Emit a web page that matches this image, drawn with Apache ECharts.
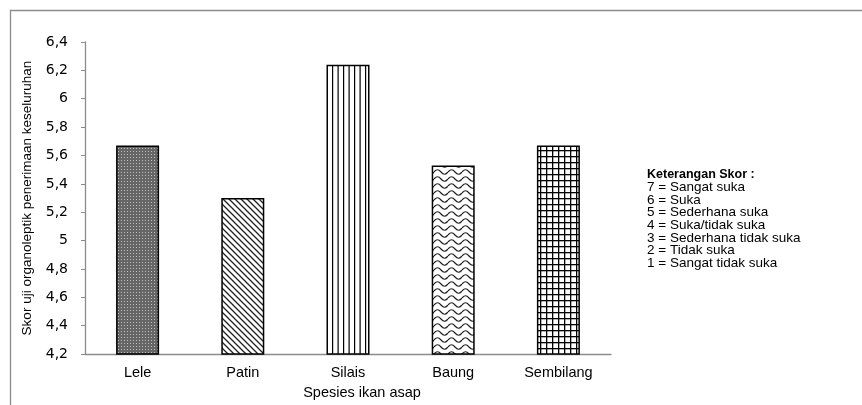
<!DOCTYPE html>
<html>
<head>
<meta charset="utf-8">
<script src="https://cdn.jsdelivr.net/npm/echarts@6/dist/echarts.min.js"></script>
<style>
  html, body { margin: 0; padding: 0; background: #fff; }
  #chart { width: 862px; height: 405px; }
</style>
</head>
<body>
<div id="chart"></div>
<script>
var categories = ['Lele', 'Patin', 'Silais', 'Baung', 'Sembilang'];
var scores = [5.67, 5.30, 6.24, 5.53, 5.67];
var keterangan = [
    '7 = Sangat suka',
    '6 = Suka',
    '5 = Sederhana suka',
    '4 = Suka/tidak suka',
    '3 = Sederhana tidak suka',
    '2 = Tidak suka',
    '1 = Sangat tidak suka'
];

// pola isi batang (canvas kecil yang diulang)
function makeTile(w, h, draw) {
    var c = document.createElement('canvas');
    c.width = w;
    c.height = h;
    var ctx = c.getContext('2d');
    ctx.fillStyle = '#fff';
    ctx.fillRect(0, 0, w, h);
    draw(ctx);
    return { image: c, repeat: 'repeat' };
}

var patterns = [
    // titik rapat
    makeTile(3, 3, function(ctx) {
        ctx.fillStyle = '#666';
        ctx.fillRect(0, 0, 3, 3);
        ctx.fillStyle = '#bdbdbd';
        ctx.fillRect(1, 1, 1, 1);
    }),
    // garis miring
    makeTile(6, 6, function(ctx) {
        ctx.strokeStyle = '#222';
        ctx.lineWidth = 1.3;
        ctx.beginPath();
        ctx.moveTo(-1, -1); ctx.lineTo(7, 7);
        ctx.moveTo(-1, 5); ctx.lineTo(1, 7);
        ctx.moveTo(5, -1); ctx.lineTo(7, 1);
        ctx.stroke();
    }),
    // garis tegak
    makeTile(11, 4, function(ctx) {
        ctx.fillStyle = '#000';
        ctx.fillRect(2, 0, 1.2, 4);
        ctx.fillRect(7.5, 0, 1.2, 4);
    }),
    // gelombang
    makeTile(14, 7, function(ctx) {
        ctx.strokeStyle = '#222';
        ctx.lineWidth = 1.2;
        ctx.beginPath();
        ctx.moveTo(0, 4);
        ctx.bezierCurveTo(2.5, 1, 4.5, 1, 7, 4);
        ctx.bezierCurveTo(9.5, 7, 11.5, 7, 14, 4);
        ctx.stroke();
    }),
    // kotak-kotak
    makeTile(6, 6, function(ctx) {
        ctx.fillStyle = '#000';
        ctx.fillRect(0, 0, 6, 1.3);
        ctx.fillRect(0, 0, 1.3, 6);
    })
];

var barData = [];
for (var i = 0; i < scores.length; i++) {
    barData.push({
        value: scores[i],
        itemStyle: { color: patterns[i] }
    });
}

var chart = echarts.init(document.getElementById('chart'));

var legendTexts = [{
    type: 'text',
    left: 647,
    top: 168,
    style: {
        text: 'Keterangan Skor :',
        font: 'bold 12.5px "Liberation Sans", Arial, sans-serif',
        fill: '#000'
    }
}];
for (var k = 0; k < keterangan.length; k++) {
    legendTexts.push({
        type: 'text',
        left: 647,
        top: 180.5 + k * 12.6,
        style: {
            text: keterangan[k],
            font: '13.5px "Liberation Sans", Arial, sans-serif',
            fill: '#000'
        }
    });
}

var option = {
    animation: false,
    backgroundColor: '#fff',
    grid: {
        left: 85,
        top: 42,
        right: 251,
        bottom: 49
    },
    xAxis: {
        type: 'category',
        data: categories,
        name: 'Spesies ikan asap',
        nameLocation: 'middle',
        nameGap: 30,
        nameTextStyle: { fontFamily: 'Liberation Sans', fontSize: 14.5, color: '#000', padding: [0, 0, 0, 28] },
        axisLine: { lineStyle: { color: '#8c8c8c', width: 1.3 } },
        axisTick: { show: false },
        axisLabel: { fontFamily: 'Liberation Sans', fontSize: 14.5, color: '#000', margin: 11 }
    },
    yAxis: {
        type: 'value',
        min: 4.2,
        max: 6.4,
        interval: 0.2,
        name: 'Skor uji organoleptik penerimaan keseluruhan',
        nameLocation: 'middle',
        nameGap: 51,
        nameTextStyle: { fontFamily: 'Liberation Sans', fontSize: 13.5, color: '#000' },
        axisLine: { show: true, lineStyle: { color: '#8c8c8c', width: 1.3 } },
        axisTick: { show: true, length: 4, lineStyle: { color: '#8c8c8c' } },
        splitLine: { show: false },
        axisLabel: {
            fontFamily: 'DejaVu Sans',
            fontSize: 14,
            color: '#000',
            margin: 17,
            formatter: function(v) {
                return String(+v.toFixed(1)).replace('.', ',');
            }
        }
    },
    series: [{
        type: 'bar',
        data: barData,
        barWidth: 43,
        itemStyle: { borderColor: '#000', borderWidth: 1.5 }
    }],
    graphic: [{
        type: 'polyline',
        shape: { points: [[10.5, 405], [10.5, 10.5], [862, 10.5]] },
        style: { stroke: '#8c8c8c', lineWidth: 1.3, fill: null }
    }].concat(legendTexts)
};

chart.setOption(option);
</script>
</body>
</html>
